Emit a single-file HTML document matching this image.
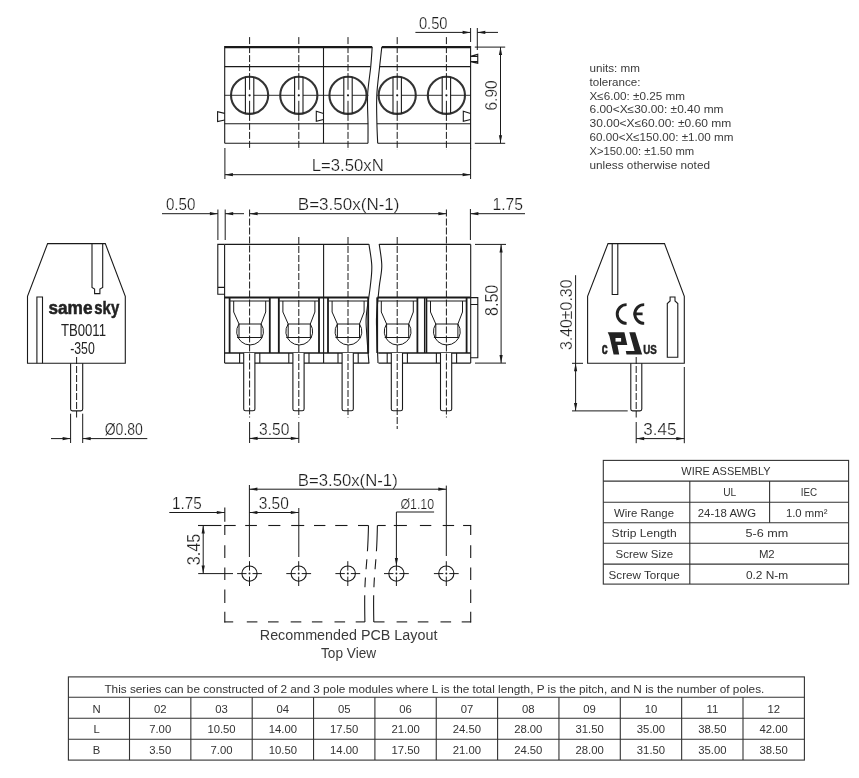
<!DOCTYPE html>
<html><head><meta charset="utf-8"><style>
html,body{margin:0;padding:0;background:#fff;width:859px;height:778px;overflow:hidden}
svg{display:block;will-change:transform}
.dt{stroke:#fff;stroke-width:0.22px}
</style></head><body>
<svg width="859" height="778" viewBox="0 0 859 778" stroke-linecap="butt">
<rect width="859" height="778" fill="#fff"/>
<path d="M224.7,47.1 H372.2" stroke="#1a1a1a" stroke-width="2.2" fill="none"/>
<path d="M381.8,47.1 H470.6" stroke="#1a1a1a" stroke-width="2.2" fill="none"/>
<line x1="224.7" y1="46.1" x2="224.7" y2="143.3" stroke="#1a1a1a" stroke-width="1.1" />
<line x1="470.6" y1="46.1" x2="470.6" y2="149.3" stroke="#1a1a1a" stroke-width="1.1" />
<line x1="224.7" y1="143.3" x2="368.0" y2="143.3" stroke="#1a1a1a" stroke-width="1.1" />
<line x1="377.7" y1="143.3" x2="470.6" y2="143.3" stroke="#1a1a1a" stroke-width="1.1" />
<line x1="224.7" y1="66.6" x2="370.5" y2="66.6" stroke="#1a1a1a" stroke-width="1.1" />
<line x1="379.6" y1="66.6" x2="470.6" y2="66.6" stroke="#1a1a1a" stroke-width="1.1" />
<line x1="224.7" y1="123.8" x2="368.2" y2="123.8" stroke="#1a1a1a" stroke-width="1.1" />
<line x1="376.9" y1="123.8" x2="470.6" y2="123.8" stroke="#1a1a1a" stroke-width="1.1" />
<line x1="224.7" y1="95.3" x2="368.5" y2="95.3" stroke="#1a1a1a" stroke-width="0.9" />
<line x1="377.2" y1="95.3" x2="470.6" y2="95.3" stroke="#1a1a1a" stroke-width="0.9" />
<path d="M372.20,47.00 C371.95,50.33 371.47,59.00 370.70,67.00 C369.93,75.00 368.05,85.67 367.60,95.00 C367.15,104.33 367.93,114.95 368.00,123.00 C368.07,131.05 368.00,139.92 368.00,143.30" stroke="#1a1a1a" stroke-width="1.1" fill="none"/>
<path d="M381.80,47.00 C381.43,50.33 380.43,59.00 379.60,67.00 C378.77,75.00 377.25,85.67 376.80,95.00 C376.35,104.33 376.75,114.95 376.90,123.00 C377.05,131.05 377.57,139.92 377.70,143.30" stroke="#1a1a1a" stroke-width="1.1" fill="none"/>
<line x1="323.5" y1="47.1" x2="323.5" y2="143.3" stroke="#1a1a1a" stroke-width="1.1" />
<circle cx="249.6" cy="95.3" r="18.6" stroke="#333" stroke-width="2.1" fill="white"/>
<line x1="245.4" y1="77.1803973553502" x2="245.4" y2="113.4196026446498" stroke="#1a1a1a" stroke-width="1.1" />
<line x1="253.79999999999998" y1="77.1803973553502" x2="253.79999999999998" y2="113.4196026446498" stroke="#1a1a1a" stroke-width="1.1" />
<line x1="231.0" y1="95.3" x2="245.4" y2="95.3" stroke="#1a1a1a" stroke-width="0.9" />
<line x1="253.79999999999998" y1="95.3" x2="268.2" y2="95.3" stroke="#1a1a1a" stroke-width="0.9" />
<circle cx="249.6" cy="95.3" r="1.1" fill="#1a1a1a"/>
<line x1="249.6" y1="37.1" x2="249.6" y2="76.69999999999999" stroke="#1a1a1a" stroke-width="1" stroke-dasharray="7 2" />
<line x1="249.6" y1="76.69999999999999" x2="249.6" y2="89.8" stroke="#1a1a1a" stroke-width="1" />
<line x1="249.6" y1="100.8" x2="249.6" y2="113.9" stroke="#1a1a1a" stroke-width="1" />
<line x1="249.6" y1="113.9" x2="249.6" y2="150" stroke="#1a1a1a" stroke-width="1" stroke-dasharray="7 2" />
<circle cx="298.8" cy="95.3" r="18.6" stroke="#333" stroke-width="2.1" fill="white"/>
<line x1="294.6" y1="77.1803973553502" x2="294.6" y2="113.4196026446498" stroke="#1a1a1a" stroke-width="1.1" />
<line x1="303.0" y1="77.1803973553502" x2="303.0" y2="113.4196026446498" stroke="#1a1a1a" stroke-width="1.1" />
<line x1="280.2" y1="95.3" x2="294.6" y2="95.3" stroke="#1a1a1a" stroke-width="0.9" />
<line x1="303.0" y1="95.3" x2="317.40000000000003" y2="95.3" stroke="#1a1a1a" stroke-width="0.9" />
<circle cx="298.8" cy="95.3" r="1.1" fill="#1a1a1a"/>
<line x1="298.8" y1="37.1" x2="298.8" y2="76.69999999999999" stroke="#1a1a1a" stroke-width="1" stroke-dasharray="7 2" />
<line x1="298.8" y1="76.69999999999999" x2="298.8" y2="89.8" stroke="#1a1a1a" stroke-width="1" />
<line x1="298.8" y1="100.8" x2="298.8" y2="113.9" stroke="#1a1a1a" stroke-width="1" />
<line x1="298.8" y1="113.9" x2="298.8" y2="150" stroke="#1a1a1a" stroke-width="1" stroke-dasharray="7 2" />
<circle cx="348.0" cy="95.3" r="18.6" stroke="#333" stroke-width="2.1" fill="white"/>
<line x1="343.8" y1="77.1803973553502" x2="343.8" y2="113.4196026446498" stroke="#1a1a1a" stroke-width="1.1" />
<line x1="352.2" y1="77.1803973553502" x2="352.2" y2="113.4196026446498" stroke="#1a1a1a" stroke-width="1.1" />
<line x1="329.4" y1="95.3" x2="343.8" y2="95.3" stroke="#1a1a1a" stroke-width="0.9" />
<line x1="352.2" y1="95.3" x2="366.6" y2="95.3" stroke="#1a1a1a" stroke-width="0.9" />
<circle cx="348.0" cy="95.3" r="1.1" fill="#1a1a1a"/>
<line x1="348.0" y1="37.1" x2="348.0" y2="76.69999999999999" stroke="#1a1a1a" stroke-width="1" stroke-dasharray="7 2" />
<line x1="348.0" y1="76.69999999999999" x2="348.0" y2="89.8" stroke="#1a1a1a" stroke-width="1" />
<line x1="348.0" y1="100.8" x2="348.0" y2="113.9" stroke="#1a1a1a" stroke-width="1" />
<line x1="348.0" y1="113.9" x2="348.0" y2="150" stroke="#1a1a1a" stroke-width="1" stroke-dasharray="7 2" />
<circle cx="397.2" cy="95.3" r="18.6" stroke="#333" stroke-width="2.1" fill="white"/>
<line x1="393.0" y1="77.1803973553502" x2="393.0" y2="113.4196026446498" stroke="#1a1a1a" stroke-width="1.1" />
<line x1="401.4" y1="77.1803973553502" x2="401.4" y2="113.4196026446498" stroke="#1a1a1a" stroke-width="1.1" />
<line x1="378.59999999999997" y1="95.3" x2="393.0" y2="95.3" stroke="#1a1a1a" stroke-width="0.9" />
<line x1="401.4" y1="95.3" x2="415.8" y2="95.3" stroke="#1a1a1a" stroke-width="0.9" />
<circle cx="397.2" cy="95.3" r="1.1" fill="#1a1a1a"/>
<line x1="397.2" y1="37.1" x2="397.2" y2="76.69999999999999" stroke="#1a1a1a" stroke-width="1" stroke-dasharray="7 2" />
<line x1="397.2" y1="76.69999999999999" x2="397.2" y2="89.8" stroke="#1a1a1a" stroke-width="1" />
<line x1="397.2" y1="100.8" x2="397.2" y2="113.9" stroke="#1a1a1a" stroke-width="1" />
<line x1="397.2" y1="113.9" x2="397.2" y2="150" stroke="#1a1a1a" stroke-width="1" stroke-dasharray="7 2" />
<circle cx="446.4" cy="95.3" r="18.6" stroke="#333" stroke-width="2.1" fill="white"/>
<line x1="442.2" y1="77.1803973553502" x2="442.2" y2="113.4196026446498" stroke="#1a1a1a" stroke-width="1.1" />
<line x1="450.59999999999997" y1="77.1803973553502" x2="450.59999999999997" y2="113.4196026446498" stroke="#1a1a1a" stroke-width="1.1" />
<line x1="427.79999999999995" y1="95.3" x2="442.2" y2="95.3" stroke="#1a1a1a" stroke-width="0.9" />
<line x1="450.59999999999997" y1="95.3" x2="465.0" y2="95.3" stroke="#1a1a1a" stroke-width="0.9" />
<circle cx="446.4" cy="95.3" r="1.1" fill="#1a1a1a"/>
<line x1="446.4" y1="37.1" x2="446.4" y2="76.69999999999999" stroke="#1a1a1a" stroke-width="1" stroke-dasharray="7 2" />
<line x1="446.4" y1="76.69999999999999" x2="446.4" y2="89.8" stroke="#1a1a1a" stroke-width="1" />
<line x1="446.4" y1="100.8" x2="446.4" y2="113.9" stroke="#1a1a1a" stroke-width="1" />
<line x1="446.4" y1="113.9" x2="446.4" y2="150" stroke="#1a1a1a" stroke-width="1" stroke-dasharray="7 2" />
<path d="M224.7,113.4 L217.6,111.6 L217.6,121.6 L224.7,120.0" stroke="#1a1a1a" stroke-width="1.1" fill="none"/>
<path d="M323.5,113.5 L316.3,111.2 L316.3,121.2 L323.5,119.5" stroke="#1a1a1a" stroke-width="1.1" fill="none"/>
<path d="M470.6,113.5 L463.3,111.2 L463.3,121.2 L470.6,119.5" stroke="#1a1a1a" stroke-width="1.1" fill="none"/>
<path d="M470.6,56.4 L477.75,54.3 V63.3 L470.6,61.6 M470.6,56.4 H477.75 M470.6,61.6 H477.75" stroke="#1a1a1a" stroke-width="1.1" fill="none"/>
<line x1="470.6" y1="28" x2="470.6" y2="42" stroke="#1a1a1a" stroke-width="1" />
<line x1="477.3" y1="28" x2="477.3" y2="50" stroke="#1a1a1a" stroke-width="1" />
<line x1="415.4" y1="32.4" x2="470.6" y2="32.4" stroke="#1a1a1a" stroke-width="1" />
<polygon points="470.6,32.4 462.6,30.8 462.6,34.0" fill="#1a1a1a"/>
<line x1="477.3" y1="32.4" x2="498" y2="32.4" stroke="#1a1a1a" stroke-width="1" />
<polygon points="477.3,32.4 485.3,30.8 485.3,34.0" fill="#1a1a1a"/>
<text x="418.9" y="28.6" font-family="Liberation Sans" font-size="16.39" font-weight="normal" fill="#1e1e1e" class="dt" textLength="28.6" lengthAdjust="spacingAndGlyphs" >0.50</text>
<line x1="474.8" y1="47.1" x2="505.2" y2="47.1" stroke="#1a1a1a" stroke-width="1" />
<line x1="474.8" y1="143.3" x2="505.2" y2="143.3" stroke="#1a1a1a" stroke-width="1" />
<line x1="500.5" y1="47.1" x2="500.5" y2="143.3" stroke="#1a1a1a" stroke-width="1" />
<polygon points="500.5,47.1 498.9,55.1 502.1,55.1" fill="#1a1a1a"/>
<polygon points="500.5,143.3 498.9,135.3 502.1,135.3" fill="#1a1a1a"/>
<g transform="translate(491.4,95.4) rotate(-90)"><text x="-15.1" y="6.0" font-family="Liberation Sans" font-size="16.67" fill="#1e1e1e" class="dt" textLength="30.1" lengthAdjust="spacingAndGlyphs">6.90</text></g>
<line x1="224.9" y1="148" x2="224.9" y2="179" stroke="#1a1a1a" stroke-width="1" />
<line x1="470.6" y1="148" x2="470.6" y2="179" stroke="#1a1a1a" stroke-width="1" />
<line x1="224.9" y1="174.7" x2="470.6" y2="174.7" stroke="#1a1a1a" stroke-width="1" />
<polygon points="224.9,174.7 232.9,173.1 232.9,176.3" fill="#1a1a1a"/>
<polygon points="470.6,174.7 462.6,173.1 462.6,176.3" fill="#1a1a1a"/>
<text x="311.8" y="170.8" font-family="Liberation Sans" font-size="15.83" font-weight="normal" fill="#1e1e1e" class="dt" textLength="71.9" lengthAdjust="spacingAndGlyphs" >L=3.50xN</text>
<line x1="224.6" y1="244.4" x2="368.9" y2="244.4" stroke="#1a1a1a" stroke-width="1.1" />
<line x1="379.2" y1="244.4" x2="470.7" y2="244.4" stroke="#1a1a1a" stroke-width="1.1" />
<line x1="224.6" y1="244.4" x2="224.6" y2="363.1" stroke="#1a1a1a" stroke-width="1.1" />
<line x1="470.7" y1="244.4" x2="470.7" y2="363.1" stroke="#1a1a1a" stroke-width="1.1" />
<path d="M224.6,287.4 H217.8 V294.2 H224.6 M217.8,287.4 V244.4 H224.6" stroke="#1a1a1a" stroke-width="1.1" fill="none"/>
<path d="M470.7,297.6 H477.8 V357.7 H470.7 M470.7,304.5 H477.8" stroke="#1a1a1a" stroke-width="1.1" fill="none"/>
<line x1="323.6" y1="244.4" x2="323.6" y2="363.1" stroke="#1a1a1a" stroke-width="1.1" />
<path d="M368.90,244.00 C369.38,247.67 371.58,258.83 371.80,266.00 C372.02,273.17 371.12,278.67 370.20,287.00 C369.28,295.33 366.90,308.50 366.30,316.00 C365.70,323.50 366.17,324.15 366.60,332.00 C367.03,339.85 368.52,357.92 368.90,363.10" stroke="#1a1a1a" stroke-width="1.1" fill="none"/>
<path d="M379.20,244.00 C379.63,247.67 381.80,258.83 381.80,266.00 C381.80,273.17 380.07,278.67 379.20,287.00 C378.33,295.33 377.00,308.50 376.60,316.00 C376.20,323.50 376.57,324.15 376.80,332.00 C377.03,339.85 377.80,357.92 378.00,363.10" stroke="#1a1a1a" stroke-width="1.1" fill="none"/>
<line x1="224.6" y1="297.4" x2="368.5" y2="297.4" stroke="#1a1a1a" stroke-width="2" />
<line x1="377.5" y1="297.4" x2="470.7" y2="297.4" stroke="#1a1a1a" stroke-width="2" />
<line x1="224.6" y1="353.0" x2="369" y2="353.0" stroke="#1a1a1a" stroke-width="1.6" />
<line x1="378.3" y1="353.0" x2="470.7" y2="353.0" stroke="#1a1a1a" stroke-width="1.6" />
<line x1="224.6" y1="363.1" x2="369.4" y2="363.1" stroke="#1a1a1a" stroke-width="1.1" />
<line x1="378.5" y1="363.1" x2="470.7" y2="363.1" stroke="#1a1a1a" stroke-width="1.1" />
<line x1="229.6" y1="297.4" x2="229.6" y2="353" stroke="#1a1a1a" stroke-width="1.8" />
<line x1="269.8" y1="297.4" x2="269.8" y2="353" stroke="#1a1a1a" stroke-width="1.8" />
<line x1="230.1" y1="301.0" x2="269.3" y2="301.0" stroke="#1a1a1a" stroke-width="1.1" />
<path d="M233.7,301 V312 L239.0,324 H261.1 L265.7,312 V301" stroke="#1a1a1a" stroke-width="1.0" fill="none"/>
<line x1="237.1" y1="337.5" x2="262.1" y2="337.5" stroke="#1a1a1a" stroke-width="1.0" />
<path d="M239.0,324 A13.4,13.4 0 1 0 261.1,324" stroke="#1a1a1a" stroke-width="1.0" fill="none"/>
<line x1="239.0" y1="324" x2="239.0" y2="337.5" stroke="#1a1a1a" stroke-width="1.0" />
<line x1="261.1" y1="324" x2="261.1" y2="337.5" stroke="#1a1a1a" stroke-width="1.0" />
<path d="M243.7,353 V409 Q243.7,410.8 245.6,410.8 H253.0 Q254.9,410.8 254.9,409 V353" stroke="#1a1a1a" stroke-width="1.1" fill="white"/>
<line x1="239.6" y1="353" x2="239.6" y2="363.1" stroke="#1a1a1a" stroke-width="1.1" />
<line x1="259.8" y1="353" x2="259.8" y2="363.1" stroke="#1a1a1a" stroke-width="1.1" />
<line x1="249.6" y1="209.5" x2="249.6" y2="417.5" stroke="#1a1a1a" stroke-width="1" stroke-dasharray="7 2" />
<line x1="278.8" y1="297.4" x2="278.8" y2="353" stroke="#1a1a1a" stroke-width="1.8" />
<line x1="319.0" y1="297.4" x2="319.0" y2="353" stroke="#1a1a1a" stroke-width="1.8" />
<line x1="279.3" y1="301.0" x2="318.5" y2="301.0" stroke="#1a1a1a" stroke-width="1.1" />
<path d="M282.90000000000003,301 V312 L288.2,324 H310.3 L314.90000000000003,312 V301" stroke="#1a1a1a" stroke-width="1.0" fill="none"/>
<line x1="286.3" y1="337.5" x2="311.3" y2="337.5" stroke="#1a1a1a" stroke-width="1.0" />
<path d="M288.2,324 A13.4,13.4 0 1 0 310.3,324" stroke="#1a1a1a" stroke-width="1.0" fill="none"/>
<line x1="288.2" y1="324" x2="288.2" y2="337.5" stroke="#1a1a1a" stroke-width="1.0" />
<line x1="310.3" y1="324" x2="310.3" y2="337.5" stroke="#1a1a1a" stroke-width="1.0" />
<path d="M292.90000000000003,353 V409 Q292.90000000000003,410.8 294.8,410.8 H302.2 Q304.1,410.8 304.1,409 V353" stroke="#1a1a1a" stroke-width="1.1" fill="white"/>
<line x1="288.8" y1="353" x2="288.8" y2="363.1" stroke="#1a1a1a" stroke-width="1.1" />
<line x1="309.0" y1="353" x2="309.0" y2="363.1" stroke="#1a1a1a" stroke-width="1.1" />
<line x1="298.8" y1="237" x2="298.8" y2="417.5" stroke="#1a1a1a" stroke-width="1" stroke-dasharray="7 2" />
<line x1="328.0" y1="297.4" x2="328.0" y2="353" stroke="#1a1a1a" stroke-width="1.8" />
<line x1="368.2" y1="297.4" x2="368.2" y2="353" stroke="#1a1a1a" stroke-width="1.8" />
<line x1="328.5" y1="301.0" x2="367.7" y2="301.0" stroke="#1a1a1a" stroke-width="1.1" />
<path d="M332.1,301 V312 L337.4,324 H359.5 L364.1,312 V301" stroke="#1a1a1a" stroke-width="1.0" fill="none"/>
<line x1="335.5" y1="337.5" x2="360.5" y2="337.5" stroke="#1a1a1a" stroke-width="1.0" />
<path d="M337.4,324 A13.4,13.4 0 1 0 359.5,324" stroke="#1a1a1a" stroke-width="1.0" fill="none"/>
<line x1="337.4" y1="324" x2="337.4" y2="337.5" stroke="#1a1a1a" stroke-width="1.0" />
<line x1="359.5" y1="324" x2="359.5" y2="337.5" stroke="#1a1a1a" stroke-width="1.0" />
<path d="M342.1,353 V409 Q342.1,410.8 344.0,410.8 H351.4 Q353.3,410.8 353.3,409 V353" stroke="#1a1a1a" stroke-width="1.1" fill="white"/>
<line x1="338.0" y1="353" x2="338.0" y2="363.1" stroke="#1a1a1a" stroke-width="1.1" />
<line x1="358.2" y1="353" x2="358.2" y2="363.1" stroke="#1a1a1a" stroke-width="1.1" />
<line x1="348.0" y1="237" x2="348.0" y2="417.5" stroke="#1a1a1a" stroke-width="1" stroke-dasharray="7 2" />
<line x1="377.2" y1="297.4" x2="377.2" y2="353" stroke="#1a1a1a" stroke-width="1.8" />
<line x1="417.4" y1="297.4" x2="417.4" y2="353" stroke="#1a1a1a" stroke-width="1.8" />
<line x1="377.7" y1="301.0" x2="416.9" y2="301.0" stroke="#1a1a1a" stroke-width="1.1" />
<path d="M381.3,301 V312 L386.59999999999997,324 H408.7 L413.3,312 V301" stroke="#1a1a1a" stroke-width="1.0" fill="none"/>
<line x1="384.7" y1="337.5" x2="409.7" y2="337.5" stroke="#1a1a1a" stroke-width="1.0" />
<path d="M386.59999999999997,324 A13.4,13.4 0 1 0 408.7,324" stroke="#1a1a1a" stroke-width="1.0" fill="none"/>
<line x1="386.59999999999997" y1="324" x2="386.59999999999997" y2="337.5" stroke="#1a1a1a" stroke-width="1.0" />
<line x1="408.7" y1="324" x2="408.7" y2="337.5" stroke="#1a1a1a" stroke-width="1.0" />
<path d="M391.3,353 V409 Q391.3,410.8 393.2,410.8 H400.59999999999997 Q402.5,410.8 402.5,409 V353" stroke="#1a1a1a" stroke-width="1.1" fill="white"/>
<line x1="387.2" y1="353" x2="387.2" y2="363.1" stroke="#1a1a1a" stroke-width="1.1" />
<line x1="407.4" y1="353" x2="407.4" y2="363.1" stroke="#1a1a1a" stroke-width="1.1" />
<line x1="397.2" y1="237" x2="397.2" y2="429" stroke="#1a1a1a" stroke-width="1" stroke-dasharray="7 2" />
<line x1="426.4" y1="297.4" x2="426.4" y2="353" stroke="#1a1a1a" stroke-width="1.8" />
<line x1="466.59999999999997" y1="297.4" x2="466.59999999999997" y2="353" stroke="#1a1a1a" stroke-width="1.8" />
<line x1="426.9" y1="301.0" x2="466.09999999999997" y2="301.0" stroke="#1a1a1a" stroke-width="1.1" />
<path d="M430.5,301 V312 L435.79999999999995,324 H457.9 L462.5,312 V301" stroke="#1a1a1a" stroke-width="1.0" fill="none"/>
<line x1="433.9" y1="337.5" x2="458.9" y2="337.5" stroke="#1a1a1a" stroke-width="1.0" />
<path d="M435.79999999999995,324 A13.4,13.4 0 1 0 457.9,324" stroke="#1a1a1a" stroke-width="1.0" fill="none"/>
<line x1="435.79999999999995" y1="324" x2="435.79999999999995" y2="337.5" stroke="#1a1a1a" stroke-width="1.0" />
<line x1="457.9" y1="324" x2="457.9" y2="337.5" stroke="#1a1a1a" stroke-width="1.0" />
<path d="M440.5,353 V409 Q440.5,410.8 442.4,410.8 H449.79999999999995 Q451.7,410.8 451.7,409 V353" stroke="#1a1a1a" stroke-width="1.1" fill="white"/>
<line x1="436.4" y1="353" x2="436.4" y2="363.1" stroke="#1a1a1a" stroke-width="1.1" />
<line x1="456.59999999999997" y1="353" x2="456.59999999999997" y2="363.1" stroke="#1a1a1a" stroke-width="1.1" />
<line x1="446.4" y1="209.5" x2="446.4" y2="417.5" stroke="#1a1a1a" stroke-width="1" stroke-dasharray="7 2" />
<line x1="278.6" y1="297.4" x2="278.6" y2="353" stroke="#1a1a1a" stroke-width="1.1" />
<line x1="424.5" y1="297.4" x2="424.5" y2="353" stroke="#1a1a1a" stroke-width="1.1" />
<line x1="217.9" y1="209.5" x2="217.9" y2="240" stroke="#1a1a1a" stroke-width="1" />
<line x1="225.2" y1="209.5" x2="225.2" y2="240" stroke="#1a1a1a" stroke-width="1" />
<line x1="162" y1="213.7" x2="217.9" y2="213.7" stroke="#1a1a1a" stroke-width="1" />
<polygon points="217.9,213.7 209.9,212.1 209.9,215.3" fill="#1a1a1a"/>
<line x1="225.2" y1="213.7" x2="244" y2="213.7" stroke="#1a1a1a" stroke-width="1" />
<polygon points="225.2,213.7 233.2,212.1 233.2,215.3" fill="#1a1a1a"/>
<text x="165.9" y="209.9" font-family="Liberation Sans" font-size="15.97" font-weight="normal" fill="#1e1e1e" class="dt" textLength="29.5" lengthAdjust="spacingAndGlyphs" >0.50</text>
<line x1="249.6" y1="213.7" x2="446.4" y2="213.7" stroke="#1a1a1a" stroke-width="1" />
<polygon points="249.6,213.7 257.6,212.1 257.6,215.3" fill="#1a1a1a"/>
<polygon points="446.4,213.7 438.4,212.1 438.4,215.3" fill="#1a1a1a"/>
<text x="297.8" y="210.2" font-family="Liberation Sans" font-size="16.11" font-weight="normal" fill="#1e1e1e" class="dt" textLength="101.7" lengthAdjust="spacingAndGlyphs" >B=3.50x(N-1)</text>
<line x1="470.4" y1="209" x2="470.4" y2="240" stroke="#1a1a1a" stroke-width="1" />
<line x1="470.4" y1="213.7" x2="525" y2="213.7" stroke="#1a1a1a" stroke-width="1" />
<polygon points="470.4,213.7 478.4,212.1 478.4,215.3" fill="#1a1a1a"/>
<text x="492.4" y="210.0" font-family="Liberation Sans" font-size="15.83" font-weight="normal" fill="#1e1e1e" class="dt" textLength="30.6" lengthAdjust="spacingAndGlyphs" >1.75</text>
<line x1="475" y1="244.4" x2="506" y2="244.4" stroke="#1a1a1a" stroke-width="1" />
<line x1="475" y1="363.1" x2="506" y2="363.1" stroke="#1a1a1a" stroke-width="1" />
<line x1="501.1" y1="244.4" x2="501.1" y2="363.1" stroke="#1a1a1a" stroke-width="1" />
<polygon points="501.1,244.4 499.5,252.4 502.7,252.4" fill="#1a1a1a"/>
<polygon points="501.1,363.1 499.5,355.1 502.7,355.1" fill="#1a1a1a"/>
<g transform="translate(491.5,300.3) rotate(-90)"><text x="-15.7" y="6.6" font-family="Liberation Sans" font-size="18.33" fill="#1e1e1e" class="dt" textLength="31.3" lengthAdjust="spacingAndGlyphs">8.50</text></g>
<line x1="249.6" y1="422" x2="249.6" y2="443" stroke="#1a1a1a" stroke-width="1" />
<line x1="298.8" y1="422" x2="298.8" y2="443" stroke="#1a1a1a" stroke-width="1" />
<line x1="249.6" y1="438.4" x2="298.8" y2="438.4" stroke="#1a1a1a" stroke-width="1" />
<polygon points="249.6,438.4 257.6,436.8 257.6,440.0" fill="#1a1a1a"/>
<polygon points="298.8,438.4 290.8,436.8 290.8,440.0" fill="#1a1a1a"/>
<text x="259.0" y="434.9" font-family="Liberation Sans" font-size="16.94" font-weight="normal" fill="#1e1e1e" class="dt" textLength="30.3" lengthAdjust="spacingAndGlyphs" >3.50</text>
<path d="M47.6,243.6 H105.3 L125.3,296.4 V363.3 H27.5 V296.4 Z" stroke="#1a1a1a" stroke-width="1.1" fill="none"/>
<path d="M36.9,363.3 V297 H42.5 V363.3" stroke="#1a1a1a" stroke-width="1.1" fill="none"/>
<path d="M92,243.6 V287.5 L94.6,289 V293.6 H99.9 V289 L102.7,287.5 V243.6" stroke="#1a1a1a" stroke-width="1.1" fill="none"/>
<text x="48.4" y="314.2" font-family="Liberation Sans" font-weight="bold" font-size="17.5" fill="#222" textLength="44.1" lengthAdjust="spacingAndGlyphs" stroke="#222" stroke-width="0.5">same</text>
<text x="94.3" y="314.2" font-family="Liberation Sans" font-weight="bold" font-size="17.5" fill="#222" textLength="24.9" lengthAdjust="spacingAndGlyphs" stroke="#222" stroke-width="0.5">sky</text>
<text x="60.9" y="336.2" font-family="Liberation Sans" font-size="15.97" font-weight="normal" fill="#222" class="" textLength="45.1" lengthAdjust="spacingAndGlyphs" >TB0011</text>
<text x="70.2" y="354.4" font-family="Liberation Sans" font-size="15.83" font-weight="normal" fill="#222" class="" textLength="24.6" lengthAdjust="spacingAndGlyphs" >-350</text>
<path d="M70.6,363.3 V409 Q70.6,410.9 72.4,410.9 H80.8 Q82.7,410.9 82.7,409 V363.3" stroke="#1a1a1a" stroke-width="1.1" fill="none"/>
<line x1="76.6" y1="357" x2="76.6" y2="417.5" stroke="#1a1a1a" stroke-width="1" stroke-dasharray="7 2" />
<line x1="70.6" y1="413.7" x2="70.6" y2="443" stroke="#1a1a1a" stroke-width="1" />
<line x1="82.7" y1="413.7" x2="82.7" y2="443" stroke="#1a1a1a" stroke-width="1" />
<line x1="51" y1="438.6" x2="70.6" y2="438.6" stroke="#1a1a1a" stroke-width="1" />
<polygon points="70.6,438.6 62.6,437.0 62.6,440.2" fill="#1a1a1a"/>
<line x1="82.7" y1="438.6" x2="147.3" y2="438.6" stroke="#1a1a1a" stroke-width="1" />
<polygon points="82.7,438.6 90.7,437.0 90.7,440.2" fill="#1a1a1a"/>
<text x="104.7" y="435.0" font-family="Liberation Sans" font-size="16.67" font-weight="normal" fill="#1e1e1e" class="dt" textLength="38.2" lengthAdjust="spacingAndGlyphs" >Ø0.80</text>
<path d="M608,243.6 H664.5 L684.3,296.4 V363.3 H587.6 V296.4 Z" stroke="#1a1a1a" stroke-width="1.1" fill="none"/>
<path d="M612.2,243.6 V294.5 H617.8 V243.6" stroke="#1a1a1a" stroke-width="1.1" fill="none"/>
<path d="M667.3,357.2 V303.5 L670.1,301 V297 H675 V301 L677.8,303.5 V357.2 Z" stroke="#1a1a1a" stroke-width="1.1" fill="none"/>
<path d="M626.6,304.6 A9.4,9.4 0 0 0 626.6,323.4" stroke="#222" stroke-width="2.9" fill="none"/>
<path d="M644.2,304.6 A9.4,9.4 0 0 0 644.2,323.4 M633.2,313.9 H642.6" stroke="#222" stroke-width="2.9" fill="none"/>
<polygon points="607.7,332.2 624.4,332.2 627.3,345 617.4,345 619.2,354.5 613.6,354.5 609.4,336" fill="#222"/>
<polygon points="629.3,332.2 635.3,332.2 641,351 642.2,354.5 626.5,354.5 625.8,351 634.6,351" fill="#222"/>
<rect x="615.5" y="338" width="5.6" height="3.6" fill="#fff"/>
<text x="601.8" y="354.3" font-family="Liberation Sans" font-weight="bold" font-size="17" fill="#222" stroke="#222" stroke-width="0.7" textLength="5.9" lengthAdjust="spacingAndGlyphs">c</text>
<text x="643.3" y="354.3" font-family="Liberation Sans" font-weight="bold" font-size="13.3" fill="#222" stroke="#222" stroke-width="0.5" textLength="13.6" lengthAdjust="spacingAndGlyphs">US</text>
<path d="M635.7,363 V409 Q635.7,410.9 634,410.9" stroke="#1a1a1a" stroke-width="0" fill="none"/>
<path d="M630.8,363.3 V409 Q630.8,410.9 632.6,410.9 H640 Q641.8,410.9 641.8,409 V363.3" stroke="#1a1a1a" stroke-width="1.1" fill="none"/>
<line x1="636.2" y1="357" x2="636.2" y2="417.5" stroke="#1a1a1a" stroke-width="1" stroke-dasharray="7 2" />
<line x1="636.2" y1="422" x2="636.2" y2="443.2" stroke="#1a1a1a" stroke-width="1" />
<line x1="575.6" y1="275.2" x2="575.6" y2="410.9" stroke="#1a1a1a" stroke-width="1" />
<polygon points="575.6,363.3 574.0,371.3 577.2,371.3" fill="#1a1a1a"/>
<polygon points="575.6,410.9 574.0,402.9 577.2,402.9" fill="#1a1a1a"/>
<line x1="572" y1="363.3" x2="583" y2="363.3" stroke="#1a1a1a" stroke-width="1" />
<line x1="572" y1="410.9" x2="627.7" y2="410.9" stroke="#1a1a1a" stroke-width="1" />
<g transform="translate(565.9,314.8) rotate(-90)"><text x="-35.3" y="6.0" font-family="Liberation Sans" font-size="16.81" fill="#1e1e1e" class="dt" textLength="70.6" lengthAdjust="spacingAndGlyphs">3.40±0.30</text></g>
<line x1="684.3" y1="367" x2="684.3" y2="443.2" stroke="#1a1a1a" stroke-width="1" />
<line x1="636.2" y1="438.6" x2="684.3" y2="438.6" stroke="#1a1a1a" stroke-width="1" />
<polygon points="636.2,438.6 644.2,437.0 644.2,440.2" fill="#1a1a1a"/>
<polygon points="684.3,438.6 676.3,437.0 676.3,440.2" fill="#1a1a1a"/>
<text x="643.3" y="435.0" font-family="Liberation Sans" font-size="16.67" font-weight="normal" fill="#1e1e1e" class="dt" textLength="33.1" lengthAdjust="spacingAndGlyphs" >3.45</text>
<line x1="249.4" y1="485" x2="249.4" y2="557" stroke="#1a1a1a" stroke-width="1" />
<line x1="446.3" y1="485.6" x2="446.3" y2="556" stroke="#1a1a1a" stroke-width="1" />
<line x1="249.4" y1="489.2" x2="446.3" y2="489.2" stroke="#1a1a1a" stroke-width="1" />
<polygon points="249.4,489.2 257.4,487.6 257.4,490.8" fill="#1a1a1a"/>
<polygon points="446.3,489.2 438.3,487.6 438.3,490.8" fill="#1a1a1a"/>
<text x="297.8" y="486.0" font-family="Liberation Sans" font-size="16.67" font-weight="normal" fill="#1e1e1e" class="dt" textLength="99.9" lengthAdjust="spacingAndGlyphs" >B=3.50x(N-1)</text>
<text x="172.1" y="508.8" font-family="Liberation Sans" font-size="15.97" font-weight="normal" fill="#1e1e1e" class="dt" textLength="29.8" lengthAdjust="spacingAndGlyphs" >1.75</text>
<line x1="169.3" y1="512.5" x2="224.8" y2="512.5" stroke="#1a1a1a" stroke-width="1" />
<polygon points="224.8,512.5 216.8,510.9 216.8,514.1" fill="#1a1a1a"/>
<text x="258.7" y="508.8" font-family="Liberation Sans" font-size="15.97" font-weight="normal" fill="#1e1e1e" class="dt" textLength="30.2" lengthAdjust="spacingAndGlyphs" >3.50</text>
<line x1="298.8" y1="508" x2="298.8" y2="557" stroke="#1a1a1a" stroke-width="1" />
<line x1="249.4" y1="512.5" x2="298.8" y2="512.5" stroke="#1a1a1a" stroke-width="1" />
<polygon points="249.4,512.5 257.4,510.9 257.4,514.1" fill="#1a1a1a"/>
<polygon points="298.8,512.5 290.8,510.9 290.8,514.1" fill="#1a1a1a"/>
<line x1="198" y1="525.5" x2="221.4" y2="525.5" stroke="#1a1a1a" stroke-width="1.1" />
<line x1="224.2" y1="525.5" x2="235.7" y2="525.5" stroke="#1a1a1a" stroke-width="1.1" />
<line x1="245.2" y1="525.5" x2="256.9" y2="525.5" stroke="#1a1a1a" stroke-width="1.1" />
<line x1="268.3" y1="525.5" x2="280.4" y2="525.5" stroke="#1a1a1a" stroke-width="1.1" />
<line x1="291.2" y1="525.5" x2="304.2" y2="525.5" stroke="#1a1a1a" stroke-width="1.1" />
<line x1="314" y1="525.5" x2="325.4" y2="525.5" stroke="#1a1a1a" stroke-width="1.1" />
<line x1="335.2" y1="525.5" x2="347.5" y2="525.5" stroke="#1a1a1a" stroke-width="1.1" />
<line x1="358" y1="525.5" x2="368.5" y2="525.5" stroke="#1a1a1a" stroke-width="1.1" />
<line x1="377.4" y1="525.5" x2="385.7" y2="525.5" stroke="#1a1a1a" stroke-width="1.1" />
<line x1="393.8" y1="525.5" x2="406.9" y2="525.5" stroke="#1a1a1a" stroke-width="1.1" />
<line x1="419.9" y1="525.5" x2="431.3" y2="525.5" stroke="#1a1a1a" stroke-width="1.1" />
<line x1="442.7" y1="525.5" x2="454.1" y2="525.5" stroke="#1a1a1a" stroke-width="1.1" />
<line x1="463.1" y1="525.5" x2="471.1" y2="525.5" stroke="#1a1a1a" stroke-width="1.1" />
<line x1="224.3" y1="621.9" x2="233.2" y2="621.9" stroke="#1a1a1a" stroke-width="1.1" />
<line x1="246.8" y1="621.9" x2="257.4" y2="621.9" stroke="#1a1a1a" stroke-width="1.1" />
<line x1="268" y1="621.9" x2="278.6" y2="621.9" stroke="#1a1a1a" stroke-width="1.1" />
<line x1="290.7" y1="621.9" x2="301.3" y2="621.9" stroke="#1a1a1a" stroke-width="1.1" />
<line x1="311.9" y1="621.9" x2="322.4" y2="621.9" stroke="#1a1a1a" stroke-width="1.1" />
<line x1="334.5" y1="621.9" x2="345.1" y2="621.9" stroke="#1a1a1a" stroke-width="1.1" />
<line x1="355.7" y1="621.9" x2="364.9" y2="621.9" stroke="#1a1a1a" stroke-width="1.1" />
<line x1="373.8" y1="621.9" x2="384.5" y2="621.9" stroke="#1a1a1a" stroke-width="1.1" />
<line x1="396.6" y1="621.9" x2="407.2" y2="621.9" stroke="#1a1a1a" stroke-width="1.1" />
<line x1="417.8" y1="621.9" x2="428.4" y2="621.9" stroke="#1a1a1a" stroke-width="1.1" />
<line x1="440.5" y1="621.9" x2="451.1" y2="621.9" stroke="#1a1a1a" stroke-width="1.1" />
<line x1="461.7" y1="621.9" x2="471.1" y2="621.9" stroke="#1a1a1a" stroke-width="1.1" />
<line x1="224.8" y1="525" x2="224.8" y2="535" stroke="#1a1a1a" stroke-width="1.1" />
<line x1="470.7" y1="525" x2="470.7" y2="535" stroke="#1a1a1a" stroke-width="1.1" />
<line x1="224.8" y1="545.3" x2="224.8" y2="557.9" stroke="#1a1a1a" stroke-width="1.1" />
<line x1="470.7" y1="545.3" x2="470.7" y2="557.9" stroke="#1a1a1a" stroke-width="1.1" />
<line x1="224.8" y1="567.5" x2="224.8" y2="580" stroke="#1a1a1a" stroke-width="1.1" />
<line x1="470.7" y1="567.5" x2="470.7" y2="580" stroke="#1a1a1a" stroke-width="1.1" />
<line x1="224.8" y1="589.6" x2="224.8" y2="602.9" stroke="#1a1a1a" stroke-width="1.1" />
<line x1="470.7" y1="589.6" x2="470.7" y2="602.9" stroke="#1a1a1a" stroke-width="1.1" />
<line x1="224.8" y1="611.8" x2="224.8" y2="622.4" stroke="#1a1a1a" stroke-width="1.1" />
<line x1="470.7" y1="611.8" x2="470.7" y2="622.4" stroke="#1a1a1a" stroke-width="1.1" />
<line x1="224.8" y1="507.5" x2="224.8" y2="521.7" stroke="#1a1a1a" stroke-width="1.1" />
<path d="M368.5,525.4 C368,545 367.5,552 366,570 S364.5,600 364.9,621.9" stroke="#1a1a1a" stroke-width="1.1" fill="none" stroke-dasharray="26 8 10 8 10 8 30"/>
<path d="M377.4,525.4 C377,545 376.5,552 375,570 S373.4,600 373.8,621.9" stroke="#1a1a1a" stroke-width="1.1" fill="none" stroke-dasharray="26 8 10 8 10 8 30"/>
<line x1="203.2" y1="525.5" x2="203.2" y2="573.6" stroke="#1a1a1a" stroke-width="1" />
<polygon points="203.2,525.5 201.6,533.5 204.8,533.5" fill="#1a1a1a"/>
<polygon points="203.2,573.6 201.6,565.6 204.8,565.6" fill="#1a1a1a"/>
<line x1="198.2" y1="573.6" x2="233" y2="573.6" stroke="#1a1a1a" stroke-width="1" />
<g transform="translate(193.5,549.4) rotate(-90)"><text x="-15.8" y="6.5" font-family="Liberation Sans" font-size="18.06" fill="#1e1e1e" class="dt" textLength="31.6" lengthAdjust="spacingAndGlyphs">3.45</text></g>
<circle cx="249.5" cy="573.6" r="7.6" stroke="#1a1a1a" stroke-width="1.1" fill="none"/>
<line x1="237.1" y1="573.6" x2="246.5" y2="573.6" stroke="#1a1a1a" stroke-width="1" />
<line x1="252.5" y1="573.6" x2="261.9" y2="573.6" stroke="#1a1a1a" stroke-width="1" />
<line x1="249.5" y1="561.2" x2="249.5" y2="570.6" stroke="#1a1a1a" stroke-width="1" />
<line x1="249.5" y1="576.6" x2="249.5" y2="586.0" stroke="#1a1a1a" stroke-width="1" />
<circle cx="249.5" cy="573.6" r="1" fill="#1a1a1a"/>
<circle cx="298.7" cy="573.6" r="7.6" stroke="#1a1a1a" stroke-width="1.1" fill="none"/>
<line x1="286.3" y1="573.6" x2="295.7" y2="573.6" stroke="#1a1a1a" stroke-width="1" />
<line x1="301.7" y1="573.6" x2="311.09999999999997" y2="573.6" stroke="#1a1a1a" stroke-width="1" />
<line x1="298.7" y1="561.2" x2="298.7" y2="570.6" stroke="#1a1a1a" stroke-width="1" />
<line x1="298.7" y1="576.6" x2="298.7" y2="586.0" stroke="#1a1a1a" stroke-width="1" />
<circle cx="298.7" cy="573.6" r="1" fill="#1a1a1a"/>
<circle cx="347.8" cy="573.6" r="7.6" stroke="#1a1a1a" stroke-width="1.1" fill="none"/>
<line x1="335.40000000000003" y1="573.6" x2="344.8" y2="573.6" stroke="#1a1a1a" stroke-width="1" />
<line x1="350.8" y1="573.6" x2="360.2" y2="573.6" stroke="#1a1a1a" stroke-width="1" />
<line x1="347.8" y1="561.2" x2="347.8" y2="570.6" stroke="#1a1a1a" stroke-width="1" />
<line x1="347.8" y1="576.6" x2="347.8" y2="586.0" stroke="#1a1a1a" stroke-width="1" />
<circle cx="347.8" cy="573.6" r="1" fill="#1a1a1a"/>
<circle cx="396.4" cy="573.6" r="7.6" stroke="#1a1a1a" stroke-width="1.1" fill="none"/>
<line x1="384.0" y1="573.6" x2="393.4" y2="573.6" stroke="#1a1a1a" stroke-width="1" />
<line x1="399.4" y1="573.6" x2="408.79999999999995" y2="573.6" stroke="#1a1a1a" stroke-width="1" />
<line x1="396.4" y1="561.2" x2="396.4" y2="570.6" stroke="#1a1a1a" stroke-width="1" />
<line x1="396.4" y1="576.6" x2="396.4" y2="586.0" stroke="#1a1a1a" stroke-width="1" />
<circle cx="396.4" cy="573.6" r="1" fill="#1a1a1a"/>
<circle cx="446.3" cy="573.6" r="7.6" stroke="#1a1a1a" stroke-width="1.1" fill="none"/>
<line x1="433.90000000000003" y1="573.6" x2="443.3" y2="573.6" stroke="#1a1a1a" stroke-width="1" />
<line x1="449.3" y1="573.6" x2="458.7" y2="573.6" stroke="#1a1a1a" stroke-width="1" />
<line x1="446.3" y1="561.2" x2="446.3" y2="570.6" stroke="#1a1a1a" stroke-width="1" />
<line x1="446.3" y1="576.6" x2="446.3" y2="586.0" stroke="#1a1a1a" stroke-width="1" />
<circle cx="446.3" cy="573.6" r="1" fill="#1a1a1a"/>
<line x1="396.4" y1="512" x2="434.1" y2="512" stroke="#1a1a1a" stroke-width="1" />
<line x1="396.4" y1="512" x2="396.4" y2="561" stroke="#1a1a1a" stroke-width="1" />
<polygon points="396.4,566.0 394.8,558.0 398.0,558.0" fill="#1a1a1a"/>
<text x="400.4" y="508.6" font-family="Liberation Sans" font-size="15.00" font-weight="normal" fill="#1e1e1e" class="dt" textLength="33.7" lengthAdjust="spacingAndGlyphs" >Ø1.10</text>
<text x="259.8" y="640.2" font-family="Liberation Sans" font-size="14.58" font-weight="normal" fill="#3a3a3a" class="" textLength="177.6" lengthAdjust="spacingAndGlyphs" >Recommended PCB Layout</text>
<text x="321.0" y="658.4" font-family="Liberation Sans" font-size="15.28" font-weight="normal" fill="#3a3a3a" class="" textLength="55.1" lengthAdjust="spacingAndGlyphs" >Top View</text>
<text x="589.5" y="71.6" font-family="Liberation Sans" font-size="10.8" fill="#3a3a3a" textLength="50.5" lengthAdjust="spacingAndGlyphs">units: mm</text>
<text x="589.5" y="85.5" font-family="Liberation Sans" font-size="10.8" fill="#3a3a3a" textLength="50.9" lengthAdjust="spacingAndGlyphs">tolerance:</text>
<text x="589.5" y="99.5" font-family="Liberation Sans" font-size="10.8" fill="#3a3a3a" textLength="95.4" lengthAdjust="spacingAndGlyphs">X≤6.00: ±0.25 mm</text>
<text x="589.5" y="113.4" font-family="Liberation Sans" font-size="10.8" fill="#3a3a3a" textLength="134" lengthAdjust="spacingAndGlyphs">6.00&lt;X≤30.00: ±0.40 mm</text>
<text x="589.5" y="127.3" font-family="Liberation Sans" font-size="10.8" fill="#3a3a3a" textLength="141.9" lengthAdjust="spacingAndGlyphs">30.00&lt;X≤60.00: ±0.60 mm</text>
<text x="589.5" y="141.2" font-family="Liberation Sans" font-size="10.8" fill="#3a3a3a" textLength="143.9" lengthAdjust="spacingAndGlyphs">60.00&lt;X≤150.00: ±1.00 mm</text>
<text x="589.5" y="155.2" font-family="Liberation Sans" font-size="10.8" fill="#3a3a3a" textLength="104.7" lengthAdjust="spacingAndGlyphs">X&gt;150.00: ±1.50 mm</text>
<text x="589.5" y="169.1" font-family="Liberation Sans" font-size="10.8" fill="#3a3a3a" textLength="120.5" lengthAdjust="spacingAndGlyphs">unless otherwise noted</text>
<rect x="603.3" y="460.4" width="245.30000000000007" height="123.70000000000005" stroke="#333" stroke-width="1.1" fill="none"/>
<line x1="603.3" y1="481.1" x2="848.6" y2="481.1" stroke="#333" stroke-width="1.1" />
<line x1="603.3" y1="502.3" x2="848.6" y2="502.3" stroke="#333" stroke-width="1.1" />
<line x1="603.3" y1="522.7" x2="848.6" y2="522.7" stroke="#333" stroke-width="1.1" />
<line x1="603.3" y1="543.2" x2="848.6" y2="543.2" stroke="#333" stroke-width="1.1" />
<line x1="603.3" y1="564.1" x2="848.6" y2="564.1" stroke="#333" stroke-width="1.1" />
<line x1="689.8" y1="481.1" x2="689.8" y2="584.1" stroke="#333" stroke-width="1.1" />
<line x1="769.6" y1="481.1" x2="769.6" y2="522.7" stroke="#333" stroke-width="1.1" />
<text x="681.3" y="474.7" font-family="Liberation Sans" font-size="11" fill="#333" textLength="89.2" lengthAdjust="spacingAndGlyphs">WIRE ASSEMBLY</text>
<text x="723.2" y="496.1" font-family="Liberation Sans" font-size="11" fill="#333" textLength="13.0" lengthAdjust="spacingAndGlyphs">UL</text>
<text x="800.8" y="496.1" font-family="Liberation Sans" font-size="11" fill="#333" textLength="16.4" lengthAdjust="spacingAndGlyphs">IEC</text>
<text x="614" y="516.8" font-family="Liberation Sans" font-size="11" fill="#333" textLength="60.0" lengthAdjust="spacingAndGlyphs">Wire Range</text>
<text x="697.8" y="516.8" font-family="Liberation Sans" font-size="11" fill="#333" textLength="58.3" lengthAdjust="spacingAndGlyphs">24-18 AWG</text>
<text x="785.9" y="516.8" font-family="Liberation Sans" font-size="11" fill="#333" textLength="41.6" lengthAdjust="spacingAndGlyphs">1.0 mm²</text>
<text x="611.6" y="537.4" font-family="Liberation Sans" font-size="11" fill="#333" textLength="65.1" lengthAdjust="spacingAndGlyphs">Strip Length</text>
<text x="745.5" y="537.2" font-family="Liberation Sans" font-size="11" fill="#333" textLength="42.7" lengthAdjust="spacingAndGlyphs">5-6 mm</text>
<text x="615.6" y="557.7" font-family="Liberation Sans" font-size="11" fill="#333" textLength="57.5" lengthAdjust="spacingAndGlyphs">Screw Size</text>
<text x="758.9" y="557.7" font-family="Liberation Sans" font-size="11" fill="#333" textLength="15.8" lengthAdjust="spacingAndGlyphs">M2</text>
<text x="608.6" y="579.1" font-family="Liberation Sans" font-size="11" fill="#333" textLength="71.1" lengthAdjust="spacingAndGlyphs">Screw Torque</text>
<text x="745.9" y="579.1" font-family="Liberation Sans" font-size="11" fill="#333" textLength="42.3" lengthAdjust="spacingAndGlyphs">0.2 N-m</text>
<rect x="68.4" y="676.9" width="736.0" height="83.20000000000005" stroke="#333" stroke-width="1.1" fill="none"/>
<line x1="68.4" y1="697.2" x2="804.4" y2="697.2" stroke="#333" stroke-width="1.1" />
<line x1="68.4" y1="718.2" x2="804.4" y2="718.2" stroke="#333" stroke-width="1.1" />
<line x1="68.4" y1="739.2" x2="804.4" y2="739.2" stroke="#333" stroke-width="1.1" />
<line x1="129.5" y1="697.2" x2="129.5" y2="760.1" stroke="#333" stroke-width="1.1" />
<line x1="190.85" y1="697.2" x2="190.85" y2="760.1" stroke="#333" stroke-width="1.1" />
<line x1="252.2" y1="697.2" x2="252.2" y2="760.1" stroke="#333" stroke-width="1.1" />
<line x1="313.55" y1="697.2" x2="313.55" y2="760.1" stroke="#333" stroke-width="1.1" />
<line x1="374.9" y1="697.2" x2="374.9" y2="760.1" stroke="#333" stroke-width="1.1" />
<line x1="436.25" y1="697.2" x2="436.25" y2="760.1" stroke="#333" stroke-width="1.1" />
<line x1="497.6" y1="697.2" x2="497.6" y2="760.1" stroke="#333" stroke-width="1.1" />
<line x1="558.95" y1="697.2" x2="558.95" y2="760.1" stroke="#333" stroke-width="1.1" />
<line x1="620.3" y1="697.2" x2="620.3" y2="760.1" stroke="#333" stroke-width="1.1" />
<line x1="681.65" y1="697.2" x2="681.65" y2="760.1" stroke="#333" stroke-width="1.1" />
<line x1="743.0" y1="697.2" x2="743.0" y2="760.1" stroke="#333" stroke-width="1.1" />
<text x="104.4" y="692.5" font-family="Liberation Sans" font-size="11.5" fill="#333" textLength="659.9" lengthAdjust="spacingAndGlyphs">This series can be constructed of 2 and 3 pole modules where L is the total length, P is the pitch, and N is the number of poles.</text>
<text x="96.6" y="712.7" text-anchor="middle" font-family="Liberation Sans" font-size="11.3" fill="#333">N</text>
<text x="160.175" y="712.7" text-anchor="middle" font-family="Liberation Sans" font-size="11.3" fill="#333">02</text>
<text x="221.52499999999998" y="712.7" text-anchor="middle" font-family="Liberation Sans" font-size="11.3" fill="#333">03</text>
<text x="282.875" y="712.7" text-anchor="middle" font-family="Liberation Sans" font-size="11.3" fill="#333">04</text>
<text x="344.225" y="712.7" text-anchor="middle" font-family="Liberation Sans" font-size="11.3" fill="#333">05</text>
<text x="405.575" y="712.7" text-anchor="middle" font-family="Liberation Sans" font-size="11.3" fill="#333">06</text>
<text x="466.925" y="712.7" text-anchor="middle" font-family="Liberation Sans" font-size="11.3" fill="#333">07</text>
<text x="528.2750000000001" y="712.7" text-anchor="middle" font-family="Liberation Sans" font-size="11.3" fill="#333">08</text>
<text x="589.625" y="712.7" text-anchor="middle" font-family="Liberation Sans" font-size="11.3" fill="#333">09</text>
<text x="650.9749999999999" y="712.7" text-anchor="middle" font-family="Liberation Sans" font-size="11.3" fill="#333">10</text>
<text x="712.325" y="712.7" text-anchor="middle" font-family="Liberation Sans" font-size="11.3" fill="#333">11</text>
<text x="773.7" y="712.7" text-anchor="middle" font-family="Liberation Sans" font-size="11.3" fill="#333">12</text>
<text x="96.6" y="733.1" text-anchor="middle" font-family="Liberation Sans" font-size="11.3" fill="#333">L</text>
<text x="160.175" y="733.1" text-anchor="middle" font-family="Liberation Sans" font-size="11.3" fill="#333">7.00</text>
<text x="221.52499999999998" y="733.1" text-anchor="middle" font-family="Liberation Sans" font-size="11.3" fill="#333">10.50</text>
<text x="282.875" y="733.1" text-anchor="middle" font-family="Liberation Sans" font-size="11.3" fill="#333">14.00</text>
<text x="344.225" y="733.1" text-anchor="middle" font-family="Liberation Sans" font-size="11.3" fill="#333">17.50</text>
<text x="405.575" y="733.1" text-anchor="middle" font-family="Liberation Sans" font-size="11.3" fill="#333">21.00</text>
<text x="466.925" y="733.1" text-anchor="middle" font-family="Liberation Sans" font-size="11.3" fill="#333">24.50</text>
<text x="528.2750000000001" y="733.1" text-anchor="middle" font-family="Liberation Sans" font-size="11.3" fill="#333">28.00</text>
<text x="589.625" y="733.1" text-anchor="middle" font-family="Liberation Sans" font-size="11.3" fill="#333">31.50</text>
<text x="650.9749999999999" y="733.1" text-anchor="middle" font-family="Liberation Sans" font-size="11.3" fill="#333">35.00</text>
<text x="712.325" y="733.1" text-anchor="middle" font-family="Liberation Sans" font-size="11.3" fill="#333">38.50</text>
<text x="773.7" y="733.1" text-anchor="middle" font-family="Liberation Sans" font-size="11.3" fill="#333">42.00</text>
<text x="96.6" y="753.7" text-anchor="middle" font-family="Liberation Sans" font-size="11.3" fill="#333">B</text>
<text x="160.175" y="753.7" text-anchor="middle" font-family="Liberation Sans" font-size="11.3" fill="#333">3.50</text>
<text x="221.52499999999998" y="753.7" text-anchor="middle" font-family="Liberation Sans" font-size="11.3" fill="#333">7.00</text>
<text x="282.875" y="753.7" text-anchor="middle" font-family="Liberation Sans" font-size="11.3" fill="#333">10.50</text>
<text x="344.225" y="753.7" text-anchor="middle" font-family="Liberation Sans" font-size="11.3" fill="#333">14.00</text>
<text x="405.575" y="753.7" text-anchor="middle" font-family="Liberation Sans" font-size="11.3" fill="#333">17.50</text>
<text x="466.925" y="753.7" text-anchor="middle" font-family="Liberation Sans" font-size="11.3" fill="#333">21.00</text>
<text x="528.2750000000001" y="753.7" text-anchor="middle" font-family="Liberation Sans" font-size="11.3" fill="#333">24.50</text>
<text x="589.625" y="753.7" text-anchor="middle" font-family="Liberation Sans" font-size="11.3" fill="#333">28.00</text>
<text x="650.9749999999999" y="753.7" text-anchor="middle" font-family="Liberation Sans" font-size="11.3" fill="#333">31.50</text>
<text x="712.325" y="753.7" text-anchor="middle" font-family="Liberation Sans" font-size="11.3" fill="#333">35.00</text>
<text x="773.7" y="753.7" text-anchor="middle" font-family="Liberation Sans" font-size="11.3" fill="#333">38.50</text>
</svg>
</body></html>
